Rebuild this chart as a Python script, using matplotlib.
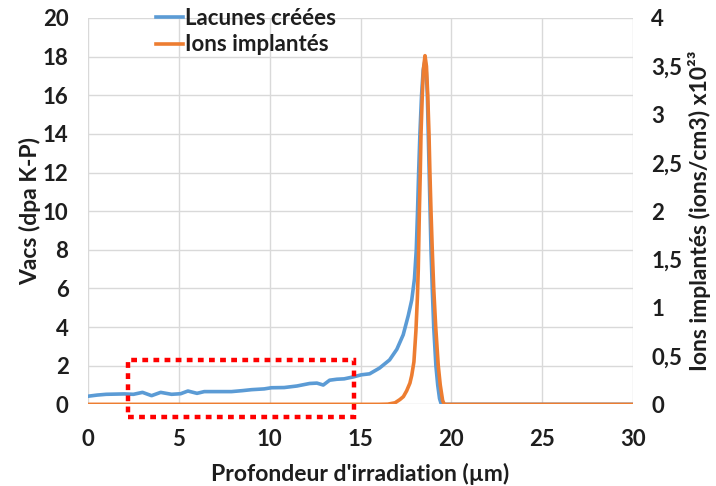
import matplotlib
matplotlib.use("Agg")
import matplotlib.pyplot as plt
from matplotlib.patches import Rectangle
from matplotlib.ticker import FixedLocator, FixedFormatter

plt.rcParams['font.family'] = ['Lato', 'DejaVu Sans']
plt.rcParams['font.weight'] = 'bold'
plt.rcParams['axes.labelweight'] = 'bold'

# Vacancies created (dpa K-P) versus irradiation depth (µm)
depth_vac = [0, 0.5, 1, 1.5, 2, 2.5, 3, 3.5, 4, 4.6, 5.1, 5.5, 6, 6.4, 7.2, 7.9,
             8.5, 9, 9.7, 10.1, 10.8, 11.5, 12.2, 12.6, 12.95, 13.3, 13.7, 14.1,
             14.6, 15.05, 15.5, 16.05, 16.6, 17.0, 17.35, 17.63, 17.82, 17.97,
             18.07, 18.14, 18.2, 18.27, 18.36, 18.45, 18.55, 18.62, 18.68, 18.73,
             18.78, 18.83, 18.88, 18.95, 19.03, 19.15, 19.25, 19.35, 19.45, 20, 25, 30]
vacancies = [0.42, 0.48, 0.52, 0.53, 0.54, 0.52, 0.62, 0.45, 0.62, 0.52, 0.55, 0.69,
             0.57, 0.66, 0.66, 0.66, 0.71, 0.76, 0.8, 0.86, 0.87, 0.95, 1.08, 1.1,
             1.0, 1.25, 1.3, 1.32, 1.42, 1.53, 1.58, 1.88, 2.3, 2.85, 3.6, 4.6, 5.4,
             6.5, 8.0, 10.0, 12.0, 14.0, 16.0, 17.3, 17.8, 17.2, 16.0, 14.0, 12.0,
             10.0, 8.0, 6.0, 4.0, 2.0, 1.0, 0.3, 0.0, 0.0, 0.0, 0.0]

# Implanted ions (x10^23 ions/cm3) versus irradiation depth (µm)
depth_ion = [0, 16, 16.5, 16.9, 17.17, 17.36, 17.54, 17.72, 17.82, 17.94, 18.05,
             18.13, 18.18, 18.24, 18.29, 18.33, 18.4, 18.47, 18.55, 18.63, 18.7,
             18.77, 18.82, 18.88, 18.95, 19.03, 19.14, 19.28, 19.39, 19.52, 19.61, 20, 30]
ions = [0, 0, 0.002, 0.016, 0.05, 0.08, 0.14, 0.22, 0.3, 0.44, 0.76, 1.1, 1.4, 2.0,
        2.4, 2.8, 3.2, 3.48, 3.61, 3.5, 3.2, 2.8, 2.4, 2.0, 1.6, 1.2, 0.8, 0.4, 0.2,
        0.04, 0, 0, 0]

x_ticks = [0, 5, 10, 15, 20, 25, 30]
left_ticks = [0, 2, 4, 6, 8, 10, 12, 14, 16, 18, 20]
right_ticks = [0, 0.5, 1, 1.5, 2, 2.5, 3, 3.5, 4]
right_labels = ['0', '0,5', '1', '1,5', '2', '2,5', '3', '3,5', '4']

# highlighted depth window (µm) and its vertical extent (dpa)
box_x = [2.22, 14.64]
box_y = [-0.63, 2.3]

BLUE = '#5B9BD5'
ORANGE = '#ED7D31'
TEXT = '#1E1E1E'
GRID = '#D9D9D9'
FS_TICK = 16
FS_LABEL = 16.5

fig = plt.figure(figsize=(7.16, 4.86), dpi=100)
ax = fig.add_axes([0.1229, 0.168, 0.7612, 0.795])
ax2 = ax.twinx()

l1, = ax.plot(depth_vac, vacancies, color=BLUE, lw=2.6, solid_joinstyle='round', zorder=3)
l2, = ax2.plot(depth_ion, ions, color=ORANGE, lw=2.6, solid_joinstyle='round', zorder=3)

ax.set_xlim(0, 30)
ax.set_ylim(0, 20)
ax2.set_ylim(0, 4)

ax.xaxis.set_major_locator(FixedLocator(x_ticks))
ax.yaxis.set_major_locator(FixedLocator(left_ticks))
ax2.yaxis.set_major_locator(FixedLocator(right_ticks))
ax2.yaxis.set_major_formatter(FixedFormatter(right_labels))

ax.grid(True, color=GRID, lw=1.0)
ax.set_axisbelow(True)
for a in (ax, ax2):
    for s in a.spines.values():
        s.set_visible(False)
    a.tick_params(length=0, labelsize=FS_TICK, labelcolor=TEXT)
ax.tick_params(axis='y', pad=14)
ax.tick_params(axis='x', pad=18)
ax2.tick_params(axis='y', pad=13)
for lab in ax.get_xticklabels() + ax.get_yticklabels() + ax2.get_yticklabels():
    lab.set_fontweight('bold')

ax.set_xlabel("Profondeur d'irradiation (µm)", fontsize=FS_LABEL, fontweight='bold',
              color=TEXT, labelpad=9)
ax.set_ylabel("Vacs (dpa K-P)", fontsize=FS_LABEL, fontweight='bold', color=TEXT,
              labelpad=1)
ax2.set_ylabel("Ions implantés (ions/cm3) x10²³", fontsize=FS_LABEL, fontweight='bold',
               color=TEXT, labelpad=4)

rect = Rectangle((box_x[0], box_y[0]), box_x[1] - box_x[0], box_y[1] - box_y[0],
                 fill=False, edgecolor='#FF0000', lw=3.2, linestyle=(0, (1.3, 1.2)),
                 clip_on=False, zorder=5)
ax.add_patch(rect)

leg = fig.legend([l1, l2], ['Lacunes créées', 'Ions implantés'], loc='upper left',
                 bbox_to_anchor=(0.19, 1.025), frameon=False,
                 prop={'size': 16, 'weight': 'bold'},
                 handlelength=1.2, handletextpad=0.1, labelspacing=0.25,
                 labelcolor=TEXT)

fig.savefig('out.png', dpi=100)
